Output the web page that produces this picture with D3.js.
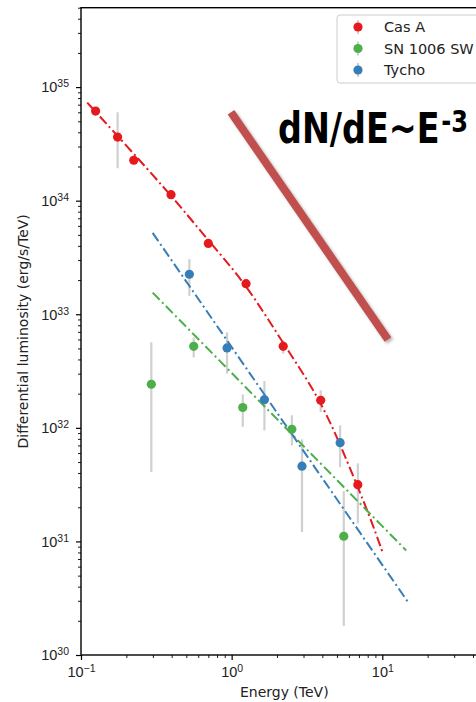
<!DOCTYPE html>
<html><head><meta charset="utf-8">
<script src="https://cdn.jsdelivr.net/npm/d3@7"></script>
<style>html,body{margin:0;padding:0;background:#fff;overflow:hidden}</style>
</head><body>
<script>
// ---- data ----
const seriesNames = ["Cas A", "SN 1006 SW", "Tycho"];
const seriesColors = ["#e41a1c", "#4daf4a", "#377eb8"];

const casAEnergy = [0.125, 0.175, 0.224, 0.396, 0.70, 1.246, 2.20, 3.90, 6.88];
const casALum    = [6.15e34, 3.63e34, 2.27e34, 1.13e34, 4.2e33, 1.86e33, 5.22e32, 1.75e32, 3.16e31];
const casALo     = [5.7e34, 1.93e34, null, null, null, null, 4.5e32, 1.38e32, 1.44e31];
const casAHi     = [6.6e34, 6.0e34, null, null, null, null, 5.9e32, 2.14e32, 4.86e31];

const snEnergy = [0.293, 0.56, 1.185, 2.51, 5.55];
const snLum    = [2.42e32, 5.22e32, 1.51e32, 9.7e31, 1.11e31];
const snLo     = [4.08e31, 4.16e32, 1.02e32, 7.0e31, 1.8e30];
const snHi     = [5.67e32, 6.24e32, 1.97e32, 1.29e32, 2.77e31];

const tychoEnergy = [0.524, 0.932, 1.65, 2.93, 5.25];
const tychoLum    = [2.25e33, 5.05e32, 1.77e32, 4.6e31, 7.4e31];
const tychoLo     = [1.45e33, 3.0e32, 9.5e31, 1.21e31, 4.5e31];
const tychoHi     = [3.06e33, 6.93e32, 2.58e32, 7.9e31, 1.05e32];

// fitted model curves
const casAFitEnergy = [0.110, 0.396, 0.684, 1.246, 2.20, 3.9, 5.81, 8.3, 10.08];
const casAFitLum    = [7.3e34, 1.13e34, 4.6e33, 1.86e33, 5.5e32, 1.78e32, 5.2e31, 1.64e31, 7.9e30];
const snFitEnergy   = [0.299, 14.4];
const snFitLum      = [1.55e33, 8.33e30];
const tychoFitEnergy = [0.299, 15.07];
const tychoFitLum    = [5.2e33, 2.83e30];

// reference slope annotation
const slopeEnergy = [0.99, 10.9];
const slopeLum    = [6.0e34, 6.0e32];

const xMajorTicks = [0.1, 1, 10];
const xTickExp = ["\u22121", "0", "1"];
const yMajorTicks = [1e30, 1e31, 1e32, 1e33, 1e34, 1e35];
const yTickExp = ["30", "31", "32", "33", "34", "35"];

(function () {
// ---- layout ----
const W = 476, H = 702;
const mLeft = 81, mRight = 487.6, mTop = 7.7, mBottom = 655;

const svg = d3.select("body").append("svg").attr("width", W).attr("height", H)
  .style("font-family", "'DejaVu Sans', sans-serif");

const x = d3.scaleLog().domain([0.1, 50]).range([mLeft, mRight]);
const y = d3.scaleLog().domain([1e30, 5e35]).range([mBottom, mTop]);

const defs = svg.append("defs");
const f = defs.append("filter").attr("id", "shadow").attr("x", "-20%").attr("y", "-20%").attr("width", "140%").attr("height", "140%");
f.append("feDropShadow").attr("dx", 2).attr("dy", 2).attr("stdDeviation", 1.5)
  .attr("flood-color", "#777").attr("flood-opacity", 0.55);

function minorTicks(domain) {
  const out = [];
  const lo = Math.floor(Math.log10(domain[0])), hi = Math.ceil(Math.log10(domain[1]));
  for (let e = lo; e <= hi; e++) for (let m = 2; m <= 9; m++) {
    const v = m * Math.pow(10, e);
    if (v >= domain[0] && v <= domain[1]) out.push(v);
  }
  return out;
}

const xMinor = svg.append("g").attr("transform", `translate(0,${mBottom})`)
  .call(d3.axisBottom(x).tickValues(minorTicks(x.domain())).tickSize(3).tickFormat(""));
const yMinor = svg.append("g").attr("transform", `translate(${mLeft},0)`)
  .call(d3.axisLeft(y).tickValues(minorTicks(y.domain())).tickSize(3).tickFormat(""));
[xMinor, yMinor].forEach(g => { g.select(".domain").remove(); g.selectAll("line").attr("stroke", "#000").attr("stroke-width", 0.9); });

const xAxis = svg.append("g").attr("transform", `translate(0,${mBottom})`)
  .call(d3.axisBottom(x).tickValues(xMajorTicks).tickSize(5).tickFormat(""));
const yAxis = svg.append("g").attr("transform", `translate(${mLeft},0)`)
  .call(d3.axisLeft(y).tickValues(yMajorTicks).tickSize(5).tickFormat(""));
[xAxis, yAxis].forEach(g => { g.select(".domain").remove(); g.selectAll("line").attr("stroke", "#000").attr("stroke-width", 1.2); });

xAxis.selectAll(".tick").each(function (d, i) {
  const t = d3.select(this).append("text").attr("y", 22).attr("text-anchor", "middle")
    .attr("fill", "#222").style("font-size", "14.5px");
  t.append("tspan").text("10");
  t.append("tspan").attr("dy", -5).style("font-size", "10.5px").text(xTickExp[i]);
});
yAxis.selectAll(".tick").each(function (d, i) {
  const t = d3.select(this).append("text").attr("x", -12).attr("dy", 4.8).attr("text-anchor", "end")
    .attr("fill", "#222").style("font-size", "14.5px");
  t.append("tspan").text("10");
  t.append("tspan").attr("dy", -5).style("font-size", "10.5px").text(yTickExp[i]);
});

svg.append("rect").attr("x", mLeft).attr("y", mTop).attr("width", mRight - mLeft).attr("height", mBottom - mTop)
  .attr("fill", "none").attr("stroke", "#000").attr("stroke-width", 1.4);

svg.append("text").attr("x", (mLeft + mRight) / 2).attr("y", 697).attr("text-anchor", "middle")
  .style("font-size", "14px").attr("fill", "#222").text("Energy (TeV)");
svg.append("text").attr("transform", `translate(28,${(mTop + mBottom) / 2}) rotate(-90)`).attr("text-anchor", "middle")
  .style("font-size", "14px").attr("fill", "#222").text("Differential luminosity (erg/s/TeV)");

const plot = svg.append("g");

plot.append("path")
  .datum(slopeEnergy.map((e, i) => [e, slopeLum[i]]))
  .attr("d", d3.line().x(d => x(d[0])).y(d => y(d[1])))
  .attr("stroke", "#c0504d").attr("stroke-width", 8).attr("fill", "none")
  .attr("filter", "url(#shadow)");

const series = [
  { E: casAEnergy, L: casALum, lo: casALo, hi: casAHi, fe: casAFitEnergy, fl: casAFitLum, curve: d3.curveBasis },
  { E: snEnergy, L: snLum, lo: snLo, hi: snHi, fe: snFitEnergy, fl: snFitLum, curve: d3.curveLinear },
  { E: tychoEnergy, L: tychoLum, lo: tychoLo, hi: tychoHi, fe: tychoFitEnergy, fl: tychoFitLum, curve: d3.curveLinear }
];

series.forEach(s => {
  s.E.forEach((e, i) => {
    if (s.lo[i] == null) return;
    plot.append("line").attr("x1", x(e)).attr("x2", x(e)).attr("y1", y(s.lo[i])).attr("y2", y(s.hi[i]))
      .attr("stroke", "#d0d0d0").attr("stroke-width", 2.2);
  });
});

series.forEach((s, k) => {
  plot.append("path")
    .datum(s.fe.map((e, i) => [e, s.fl[i]]))
    .attr("d", d3.line().curve(s.curve).x(d => x(d[0])).y(d => y(d[1])))
    .attr("stroke", seriesColors[k]).attr("stroke-width", 2).attr("fill", "none")
    .attr("stroke-dasharray", "10,3.4,2,3.4");
});

series.forEach((s, k) => {
  plot.selectAll(null).data(s.E.map((e, i) => [e, s.L[i]])).enter().append("circle")
    .attr("cx", d => x(d[0])).attr("cy", d => y(d[1])).attr("r", 4.6).attr("fill", seriesColors[k]);
});

const lg = svg.append("g");
lg.append("rect").attr("x", 337).attr("y", 15).attr("width", 146).attr("height", 68).attr("rx", 3)
  .attr("fill", "#fff").attr("fill-opacity", 0.85).attr("stroke", "#cccccc").attr("stroke-width", 1);
seriesNames.forEach((n, i) => {
  const cy = 27 + i * 21.5;
  lg.append("line").attr("x1", 358).attr("x2", 358).attr("y1", cy - 7).attr("y2", cy + 7)
    .attr("stroke", "#d0d0d0").attr("stroke-width", 2);
  lg.append("circle").attr("cx", 358).attr("cy", cy).attr("r", 4.6).attr("fill", seriesColors[i]);
  lg.append("text").attr("x", 384).attr("y", cy + 5.3).style("font-size", "14.5px").attr("fill", "#222").text(n);
});

const ann = svg.append("text")
  .style("font-family", "'Liberation Sans Narrow','DejaVu Sans Condensed','Liberation Sans',sans-serif")
  .style("font-weight", "bold").attr("fill", "#000")
  .attr("x", 278).attr("y", 143).style("font-size", "43px")
  .attr("textLength", 190).attr("lengthAdjust", "spacingAndGlyphs");
ann.append("tspan").text("dN/dE~E");
ann.append("tspan").attr("dx", 2).attr("dy", -11).style("font-size", "31px").text("-3");
})();
</script>
</body></html>
